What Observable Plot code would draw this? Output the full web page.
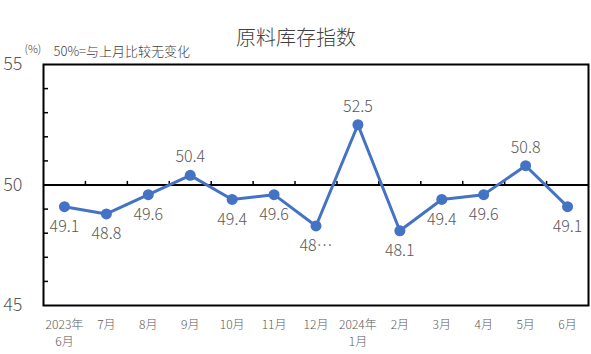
<!DOCTYPE html>
<html>
<head>
<meta charset="utf-8">
<script src="https://cdn.jsdelivr.net/npm/d3@7"></script>
<script src="https://cdn.jsdelivr.net/npm/@observablehq/plot@0.6"></script>
<style>
  html, body { margin: 0; padding: 0; background: #fff; }
</style>
</head>
<body>
<div id="chart"></div>
<script>
const title = "原料库存指数";
const unitNote = "(%)";
const subtitle = "50%=与上月比较无变化";
const months = ["2023年\n6月","7月","8月","9月","10月","11月","12月","2024年\n1月","2月","3月","4月","5月","6月"];
const values = [49.1, 48.8, 49.6, 50.4, 49.4, 49.6, 48.3, 52.5, 48.1, 49.4, 49.6, 50.8, 49.1];
const valueLabels = ["49.1","48.8","49.6","50.4","49.4","49.6","48…","52.5","48.1","49.4","49.6","50.8","49.1"];
const labelAbove = [false,false,false,true,false,false,false,true,false,false,false,true,false];
const yMajorTicks = [45, 50, 55];
const yMinorTicks = [46, 47, 48, 49, 51, 52, 53, 54];
const baseline = 50;

const data = values.map((v, i) => ({i, v, label: valueLabels[i], above: labelAbove[i]}));
const idx = d3.range(months.length);
const boundaries = idx.slice(1).map(i => i - 0.5);

const font = "'Noto Sans CJK SC', 'Noto Sans', sans-serif";
const gray = "#595959";

const chart = Plot.plot({
  width: 591,
  height: 354,
  marginLeft: 43,
  marginRight: 3,
  marginTop: 64,
  marginBottom: 49,
  style: {fontFamily: font, background: "white", color: gray},
  x: {type: "linear", domain: [-0.5, months.length - 0.5], label: null},
  y: {domain: [45, 55], label: null},
  marks: [
    Plot.axisY({ticks: yMajorTicks, tickSize: 0, tickPadding: 21, fontSize: 18, fontWeight: 300, fill: gray, label: null}),
    Plot.axisY({ticks: yMinorTicks, tickSize: -5, tickFormat: () => "", stroke: "black", strokeWidth: 1.5, label: null}),
    Plot.axisX({ticks: idx, tickSize: 0, tickPadding: 12, tickFormat: i => months[i], fontSize: 12, fontWeight: 300, fill: gray, lineHeight: 1.4, label: null}),
    Plot.ruleY([baseline], {stroke: "black", strokeWidth: 2}),
    Plot.ruleX(boundaries, {y1: baseline, y2: baseline + 0.15, stroke: "black", strokeWidth: 1.5}),
    Plot.frame({stroke: "black", strokeWidth: 2}),
    Plot.line(data, {x: "i", y: "v", stroke: "#4472C4", strokeWidth: 3}),
    Plot.dot(data, {x: "i", y: "v", r: 5.5, fill: "#4472C4", stroke: "none"}),
    Plot.text(data.filter(d => !d.above), {x: "i", y: "v", text: "label", dy: 20, fontSize: 16, fontWeight: 300, fill: gray}),
    Plot.text(data.filter(d => d.above), {x: "i", y: "v", text: "label", dy: -18, fontSize: 16, fontWeight: 300, fill: gray}),
    Plot.text([title], {frameAnchor: "top", dx: -20, dy: -34, fontSize: 20, fontWeight: 300, fill: "#404040"}),
    Plot.text([unitNote], {frameAnchor: "top-left", dx: -19, dy: -19, fontSize: 11, fontWeight: 300, fill: "#404040", textAnchor: "start"}),
    Plot.text([subtitle], {frameAnchor: "top-left", dx: 10, dy: -18, fontSize: 13, fontWeight: 300, fill: "#404040", textAnchor: "start"})
  ]
});
document.getElementById("chart").append(chart);
</script>
</body>
</html>
